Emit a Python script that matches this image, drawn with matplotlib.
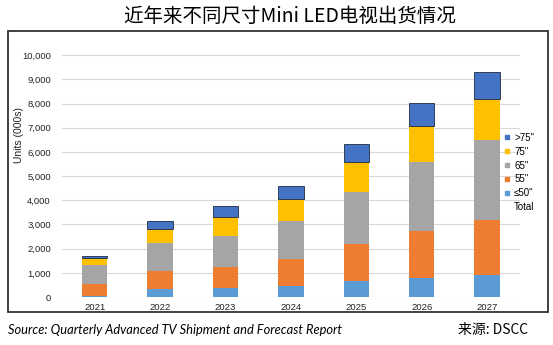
import matplotlib
matplotlib.use('Agg')
import matplotlib.pyplot as plt
from matplotlib.lines import Line2D
from matplotlib.patches import Rectangle
import numpy as np

years = ['2021', '2022', '2023', '2024', '2025', '2026', '2027']
le50 = [50, 350, 360, 440, 660, 800, 930]
s55 = [500, 730, 880, 1130, 1530, 1930, 2240]
s65 = [760, 1160, 1280, 1570, 2170, 2840, 3310]
s75 = [300, 570, 790, 930, 1230, 1500, 1720]
gt75 = [100, 320, 470, 510, 730, 940, 1100]

series = [('\u226450"', le50, '#5b9bd5'),
          ('55"', s55, '#ed7d31'),
          ('65"', s65, '#a5a5a5'),
          ('75"', s75, '#ffc000'),
          ('>75"', gt75, '#4472c4')]

plt.rcParams['font.family'] = ['Liberation Sans', 'DejaVu Sans']

fig = plt.figure(figsize=(5.53, 3.45), dpi=100)
ax = fig.add_axes([0.112, 0.139, 0.828, 0.736])

x = np.arange(len(years))
bottom = np.zeros(len(years))
for name, vals, color in series:
    if name == '>75"':
        ax.bar(x, vals, 0.39, bottom=bottom, color=color, edgecolor='#1f2a40', linewidth=0.6, zorder=3)
    else:
        ax.bar(x, vals, 0.39, bottom=bottom, color=color, zorder=3)
    bottom += np.array(vals)

ax.set_xlim(-0.5, 6.5)
ax.set_ylim(0, 10500)
ax.set_yticks(np.arange(0, 10001, 1000))
ax.set_yticklabels(['{:,}'.format(v) for v in range(0, 10001, 1000)])
ax.set_xticks(x)
ax.set_xticklabels(years)
ax.tick_params(axis='both', length=0, labelsize=6.8, colors='#222222')
ax.tick_params(axis='y', pad=8)
ax.tick_params(axis='x', pad=4)
ax.grid(axis='y', color='#d9d9d9', linewidth=0.8, zorder=0)
for s in ax.spines.values():
    s.set_visible(False)
ax.set_ylabel('Units (000s)', fontsize=7.5, color='#222222')
ax.yaxis.set_label_coords(-0.082, 0.64)

handles = []
for name, vals, color in reversed(series):
    handles.append(Line2D([], [], marker='s', linestyle='', markersize=3,
                          markerfacecolor=color, markeredgecolor=color, label=name))
handles.append(Line2D([], [], linestyle='', label='Total'))
fig.legend(handles=handles, loc='center left', bbox_to_anchor=(0.905, 0.5),
           frameon=False, fontsize=7, handlelength=0.6, handletextpad=0.4,
           labelspacing=0.4, borderaxespad=0)

# outer frame
fig.patches.append(Rectangle((0.0145, 0.0957), 0.9765, 0.8145, transform=fig.transFigure,
                             fill=False, edgecolor='#333333', linewidth=1.3))

fig.text(0.525, 0.952, '近年来不同尺寸Mini LED电视出货情况', ha='center', va='center',
         fontsize=14, family=['Noto Sans CJK SC', 'DejaVu Sans'])
fig.text(0.014, 0.043, 'Source: Quarterly Advanced TV Shipment and Forecast Report',
         ha='left', va='center', fontsize=9.3, style='italic', family=['Lato', 'DejaVu Sans'])
fig.text(0.955, 0.043, '来源: DSCC', ha='right', va='center', fontsize=10,
         family=['Noto Sans CJK SC', 'DejaVu Sans'])

fig.savefig('out.png', dpi=100)
